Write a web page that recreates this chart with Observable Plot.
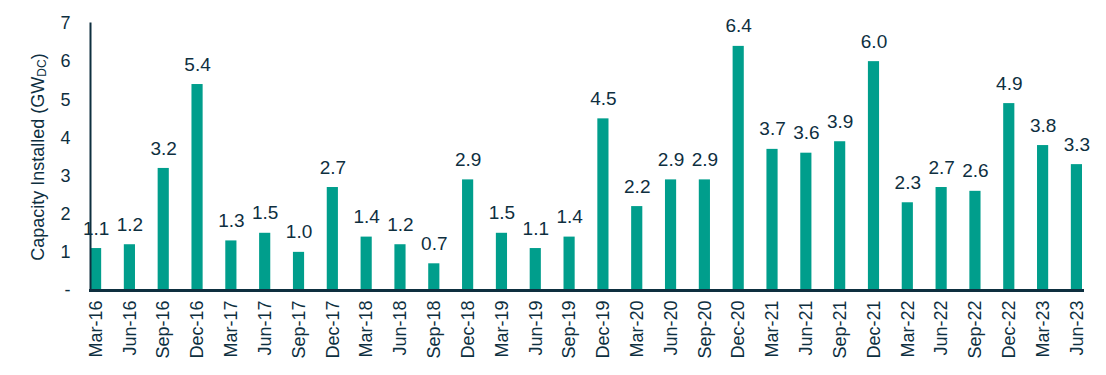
<!DOCTYPE html>
<html>
<head>
<meta charset="utf-8">
<script src="https://cdn.jsdelivr.net/npm/d3@7"></script>
<script src="https://cdn.jsdelivr.net/npm/@observablehq/plot@0.6"></script>
<style>
  html, body { margin: 0; padding: 0; background: #fff; }
  #chart svg { display: block; }
</style>
</head>
<body>
<div id="chart"></div>
<script>
const quarters = ["Mar-16","Jun-16","Sep-16","Dec-16","Mar-17","Jun-17","Sep-17","Dec-17","Mar-18","Jun-18","Sep-18","Dec-18","Mar-19","Jun-19","Sep-19","Dec-19","Mar-20","Jun-20","Sep-20","Dec-20","Mar-21","Jun-21","Sep-21","Dec-21","Mar-22","Jun-22","Sep-22","Dec-22","Mar-23","Jun-23"];
const capacity = [1.1,1.2,3.2,5.4,1.3,1.5,1.0,2.7,1.4,1.2,0.7,2.9,1.5,1.1,1.4,4.5,2.2,2.9,2.9,6.4,3.7,3.6,3.9,6.0,2.3,2.7,2.6,4.9,3.8,3.3];
const yTicks = [0,1,2,3,4,5,6,7];
const yTitle = "Capacity Installed (GW";
const yTitleSub = "DC";

const data = quarters.map((q, i) => ({q, v: capacity[i]}));
const dark = "#0e2f3f";
const teal = "#009E8C";
const font = "'Liberation Sans', Arial, sans-serif";

const svg = Plot.plot({
  width: 1106,
  height: 375,
  marginLeft: 90,
  marginRight: 24,
  marginTop: 23,
  marginBottom: 85,
  style: {fontFamily: font, fontSize: "18px", color: dark, background: "#fff"},
  x: {domain: quarters, paddingInner: 0.67, paddingOuter: 0, round: false, label: null},
  y: {domain: [0, 7], label: null},
  marks: [
    Plot.axisX({tickRotate: -90, tickSize: 0, tickPadding: 10, fontSize: 18, fill: dark}),
    Plot.axisY({ticks: yTicks, tickSize: 0, tickPadding: 20, fontSize: 18, fill: dark,
      tickFormat: d => d === 0 ? "-" : String(d)}),
    Plot.barY(data, {x: "q", y: "v", fill: teal}),
    Plot.text(data, {x: "q", y: "v", text: d => d.v.toFixed(1), dy: -20, fontSize: 19, fill: dark}),
    Plot.frame({anchor: "left", stroke: dark, strokeWidth: 2}),
    Plot.frame({anchor: "bottom", stroke: dark, strokeWidth: 3})
  ]
});

const t = d3.select(svg).append("text")
  .attr("transform", "translate(39,157) rotate(-90)")
  .attr("text-anchor", "middle")
  .attr("dominant-baseline", "middle")
  .attr("fill", dark)
  .attr("font-size", 18)
  .attr("font-family", font);
t.append("tspan").text(yTitle);
t.append("tspan").attr("font-size", 12).attr("dy", 4).text(yTitleSub);
t.append("tspan").attr("dy", -4).text(")");

document.getElementById("chart").appendChild(svg);
</script>
</body>
</html>
